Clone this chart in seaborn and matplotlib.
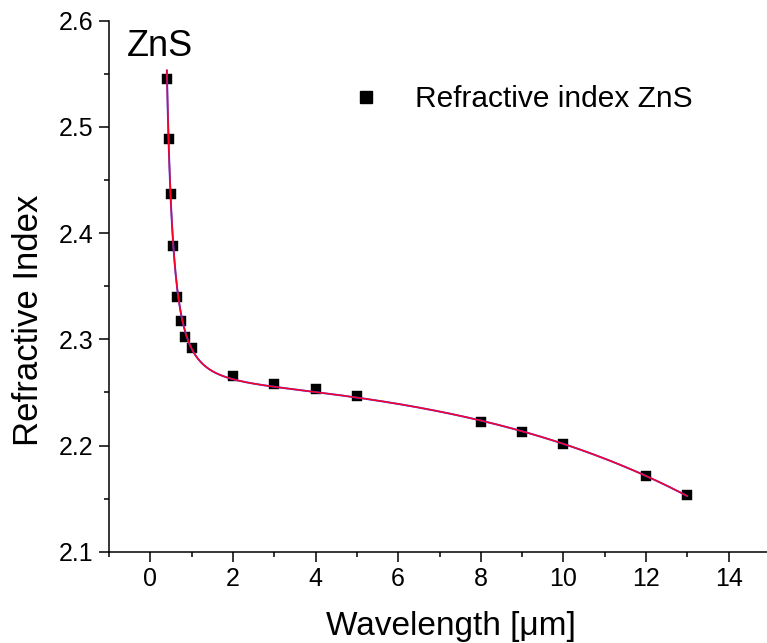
import numpy as np
import pandas as pd
import matplotlib
matplotlib.use("Agg")
import matplotlib.pyplot as plt
from matplotlib.ticker import MultipleLocator
from matplotlib.lines import Line2D
import seaborn as sns

# ---- data ----
wavelength_um = [0.40, 0.45, 0.50, 0.55, 0.65, 0.75, 0.85, 1.0,
                 2.0, 3.0, 4.0, 5.0, 8.0, 9.0, 10.0, 12.0, 13.0]
refractive_index = [2.545, 2.489, 2.437, 2.388, 2.340, 2.317, 2.302, 2.292,
                    2.265, 2.258, 2.253, 2.247, 2.222, 2.213, 2.201, 2.171, 2.153]
series_label = "Refractive index ZnS"
title_text = "ZnS"
x_label = "Wavelength [\u03bcm]"
y_label = "Refractive Index"
x_ticks = [0, 2, 4, 6, 8, 10, 12, 14]
y_ticks = [2.1, 2.2, 2.3, 2.4, 2.5, 2.6]

df = pd.DataFrame({"wl": wavelength_um, "n": refractive_index})

# ---- Sellmeier-type least-squares fit of the data (for the smooth line) ----
lam = np.asarray(wavelength_um)
n2 = np.asarray(refractive_index) ** 2


def basis(l, C, F):
    l2 = l ** 2
    return np.column_stack([np.ones_like(l), l2 / (l2 - C), l2 / (l2 - F), l2, 1.0 / l2])


best = None
for C in np.linspace(0.005, 0.15, 80):
    for F in np.linspace(150, 4000, 80):
        M = basis(lam, C, F)
        coef, *_ = np.linalg.lstsq(M, n2, rcond=None)
        r = np.sum((M @ coef - n2) ** 2)
        if best is None or r < best[0]:
            best = (r, C, F, coef)
_, C, F, coef = best
lf = np.linspace(lam.min(), lam.max(), 1000)
nf = np.sqrt(basis(lf, C, F) @ coef)
fit = pd.DataFrame({"wl": lf, "n": nf})

# ---- figure ----
sns.set_theme(style="ticks")
plt.rcParams["font.family"] = ["Liberation Sans", "DejaVu Sans"]

W, H = 767, 643
fig = plt.figure(figsize=(W / 100, H / 100), dpi=100)
ax = fig.add_axes([109 / W, (H - 551.7) / H, (770 - 109) / W, (551.7 - 20.7) / H])

sns.scatterplot(data=df, x="wl", y="n", ax=ax, marker="s", s=62, color="black",
                edgecolor="black", linewidth=0.3, zorder=2, legend=False)
sns.lineplot(data=fit, x="wl", y="n", ax=ax, color="#3344ff", lw=1.4, zorder=3,
             sort=False, estimator=None)
sns.lineplot(data=fit, x="wl", y="n", ax=ax, color="#ff0022", lw=1.1, zorder=4,
             sort=False, estimator=None)

ax.set_xlim(-1, 15)
ax.set_ylim(2.1, 2.6)
ax.xaxis.set_minor_locator(MultipleLocator(1))
ax.yaxis.set_minor_locator(MultipleLocator(0.05))
ax.set_xticks(x_ticks)
ax.set_xticklabels([str(t) for t in x_ticks])
ax.set_yticks(y_ticks)
ax.set_yticklabels([f"{t:.1f}" for t in y_ticks])

for s in ["top", "right"]:
    ax.spines[s].set_visible(False)
for s in ["left", "bottom"]:
    ax.spines[s].set_linewidth(1.1)
    ax.spines[s].set_color("black")
ax.tick_params(which="major", direction="out", length=7, width=1.1,
               labelsize=18, colors="black", labelcolor="black", pad=4)
ax.tick_params(which="minor", direction="out", length=3.5, width=1.1, colors="black")
ax.grid(False)
ax.set_facecolor("white")

ax.set_xlabel(x_label, fontsize=24, color="black")
ax.set_ylabel(y_label, fontsize=25, color="black")
ax.xaxis.set_label_coords(0.518, -0.111)
ax.yaxis.set_label_coords(-0.097, 0.436)

ax.text(0.027, 0.985, title_text, transform=ax.transAxes, fontsize=26,
        ha="left", va="top", color="black")

handle = Line2D([], [], marker="s", linestyle="none", color="black", markersize=8)
fs_leg = 21.5
leg = ax.legend([handle], [series_label], loc="center left", frameon=False,
                bbox_to_anchor=(351 / W, 1 - 99 / H), bbox_transform=fig.transFigure,
                fontsize=fs_leg, handlelength=1.0, handletextpad=1.15,
                borderpad=0, borderaxespad=0)
for t in leg.get_texts():
    t.set_color("black")

fig.savefig("out.png", dpi=100, facecolor="white")
